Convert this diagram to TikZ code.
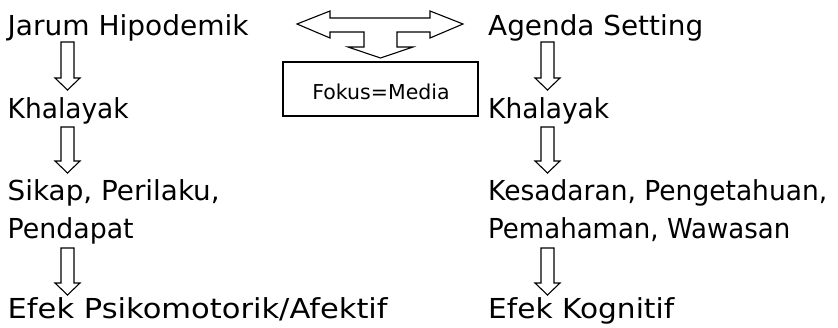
\documentclass[tikz,border=0pt]{standalone}
\usepackage{fontspec}
\usepackage{graphicx}
\setmainfont{DejaVu Sans}
\newcommand\downblock[3]{%
  \draw[arrowline] (#1-6.5,#2) -- (#1+6.5,#2) -- (#1+6.5,#3-12) -- (#1+12.5,#3-12)
    -- (#1,#3) -- (#1-12.5,#3-12) -- (#1-6.5,#3-12) -- cycle;}
\newcommand\fitw[2]{\setbox0\hbox{#2}\pgfmathsetmacro\myscale{#1/\the\wd0}\scalebox{\myscale}[1]{#2}}
\begin{document}
\begin{tikzpicture}[x=1pt,y=-1pt,
  lbl/.style={anchor=base west,inner sep=0pt,font=\fontsize{27.5}{33}\selectfont},
  arrowline/.style={draw=black,line width=1.1pt,fill=white,line join=miter},
  boxstyle/.style={draw=black,line width=1.1pt,minimum width=195pt,minimum height=54pt,inner sep=0pt}]
\useasboundingbox[fill=white] (0,0) rectangle (838,327);
% left column
\node[lbl] (jh) at (7.5,35) {\fitw{241}{Jarum Hipodemik}};
\node[lbl] (kl) at (7.5,118) {\fitw{121}{Khalayak}};
\node[lbl] (sp) at (7.5,200) {\fitw{212}{Sikap, Perilaku,}};
\node[lbl] (pd) at (7.5,238) {\fitw{126}{Pendapat}};
\node[lbl] (ep) at (7.5,318) {\fitw{380}{Efek Psikomotorik/Afektif}};
% right column
\node[lbl] (as) at (488,35) {\fitw{215}{Agenda Setting}};
\node[lbl] (kr) at (488,118) {\fitw{121}{Khalayak}};
\node[lbl] (ks) at (488,200) {\fitw{339}{Kesadaran, Pengetahuan,}};
\node[lbl] (pw) at (488,238) {\fitw{302}{Pemahaman, Wawasan}};
\node[lbl] (ek) at (488,318) {\fitw{186}{Efek Kognitif}};
% block arrows
\downblock{67.5}{42}{90}
\downblock{67.5}{127}{173}
\downblock{67.5}{248}{295}
\downblock{547.5}{42}{90}
\downblock{547.5}{127}{173}
\downblock{547.5}{248}{295}
% centre double arrow with down arrow
\draw[arrowline] (297,24) -- (330,11) -- (330,18) -- (430,18) -- (430,11) -- (463,24)
  -- (430,38) -- (430,32) -- (397,32) -- (397,47) -- (413,47) -- (380.5,58)
  -- (348,47) -- (364,47) -- (364,32) -- (330,32) -- (330,38) -- cycle;
% box
\node[boxstyle] (fm) at (380.5,89) {};
\node[anchor=base,inner sep=0pt,font=\fontsize{20.5}{25}\selectfont] (fmt) at (381,99) {Fokus=Media};
\end{tikzpicture}
\end{document}
